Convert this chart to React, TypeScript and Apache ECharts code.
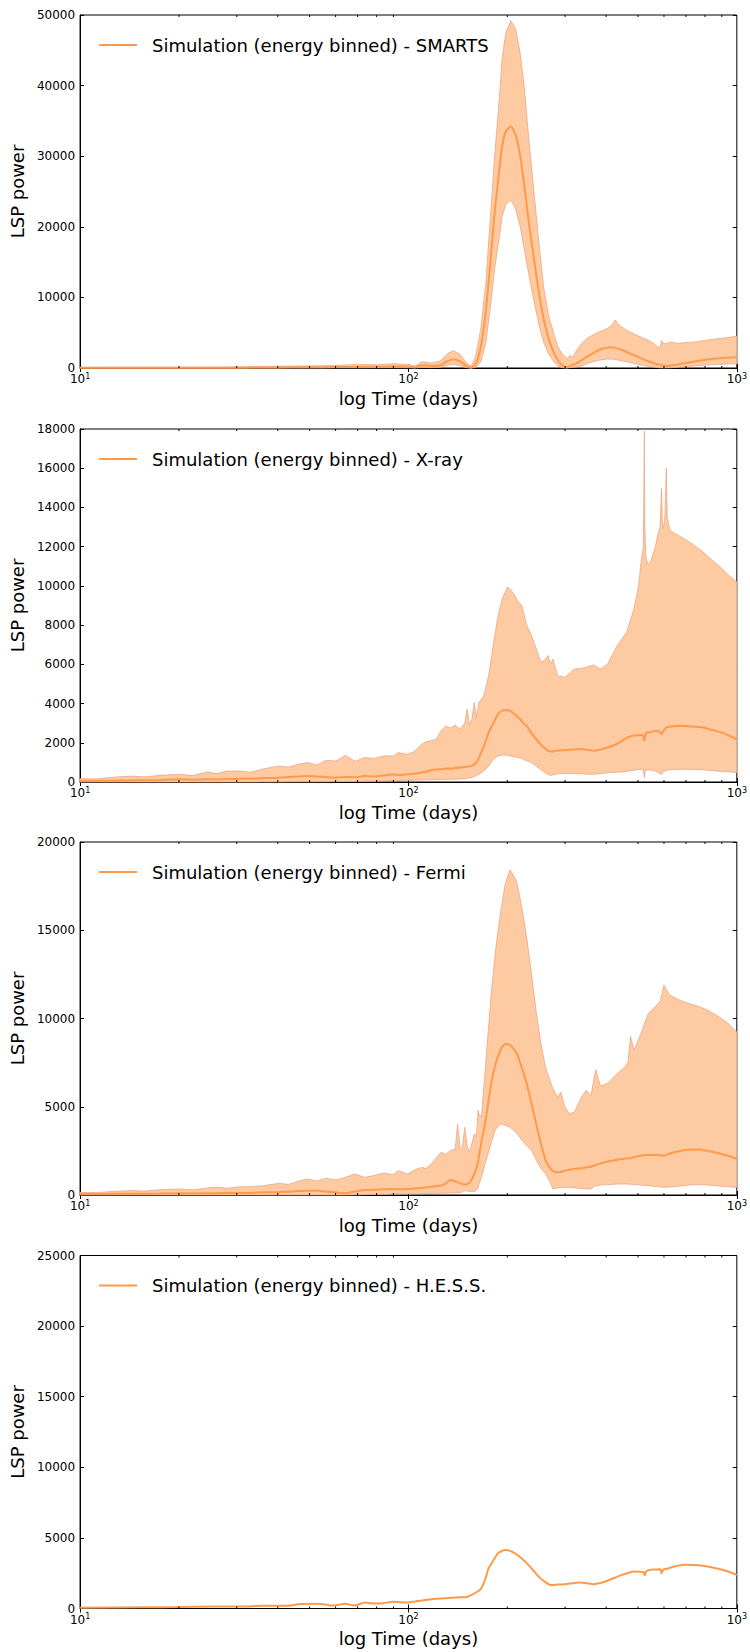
import React, { useEffect, useRef } from "react";
import * as echarts from "echarts";

// ---------- Data (days, LSP power) ----------
const days1 = [10, 15, 20, 30, 40, 50, 60, 70, 80, 90, 100, 105, 110, 118, 125, 132, 137, 143, 150, 155, 160, 166, 172, 178, 183, 189, 193, 198, 205, 212, 219, 225, 232, 241, 250, 258, 267, 277, 285, 294, 304, 310, 316, 325, 337, 350, 365, 380, 400, 415, 426, 440, 460, 487, 515, 545, 565, 575, 585, 590, 600, 612, 625, 660, 700, 750, 800, 860, 930, 1000];
const upper1 = [80, 90, 100, 150, 250, 300, 350, 500, 450, 600, 500, 300, 900, 700, 1000, 2100, 2450, 2000, 800, 250, 1500, 5500, 12000, 22000, 30000, 38000, 44000, 47500, 49200, 48000, 44500, 40000, 33000, 25000, 17500, 11500, 7500, 4900, 3000, 2000, 1300, 1800, 1500, 2500, 3500, 4200, 4700, 5100, 5500, 6000, 6800, 6000, 5400, 4800, 4300, 3800, 3300, 2900, 3000, 3900, 3400, 3500, 3700, 3500, 3600, 3700, 3900, 4100, 4300, 4500];
const median1 = [30, 30, 40, 50, 80, 100, 130, 150, 170, 200, 180, 120, 400, 300, 400, 1000, 1230, 1000, 300, 50, 500, 3000, 8000, 15500, 22000, 28000, 31500, 33500, 34200, 33000, 30000, 26000, 21000, 15500, 10500, 7000, 4200, 2200, 1100, 400, 100, 250, 450, 650, 1100, 1600, 2100, 2550, 2850, 2950, 2850, 2650, 2300, 1800, 1300, 850, 600, 500, 450, 400, 350, 300, 330, 500, 700, 950, 1150, 1350, 1450, 1550];
const lower1 = [0, 0, 0, 0, 10, 20, 30, 30, 40, 50, 40, 20, 80, 50, 100, 400, 500, 350, 50, 0, 50, 800, 3500, 9000, 14000, 18500, 21500, 23200, 23800, 22500, 20000, 17000, 13500, 9500, 6000, 3700, 2000, 900, 300, 50, 0, 50, 100, 150, 300, 600, 900, 1100, 1250, 1270, 1200, 1050, 900, 650, 400, 200, 100, 50, 30, 30, 20, 20, 30, 100, 200, 300, 400, 480, 550, 600];

const days2 = [10, 11.3, 12.5, 14.3, 15.8, 17.5, 20, 22, 24.4, 26.1, 28, 30.8, 33, 36, 40.3, 43.1, 46.1, 49.2, 52.6, 56, 60.2, 64.3, 68.8, 73.5, 78.6, 84, 89.9, 92.9, 99.3, 104, 109.8, 113, 117.4, 121.4, 125.6, 129.8, 134.2, 138.8, 143.5, 148.4, 150.9, 153.4, 156, 158.6, 161, 164, 169.6, 175.4, 181.3, 187.5, 193.5, 200.4, 205, 210.7, 216, 221.5, 225.3, 229.1, 236.9, 244.9, 253.2, 259, 266.2, 270.7, 275.4, 284.6, 299.3, 320, 336.5, 347.8, 365.7, 384.5, 404.3, 432.3, 446.9, 462.1, 485.9, 502.3, 510.9, 519.4, 522.9, 524.7, 528.2, 531.7, 537.1, 546.2, 564.7, 574.2, 583.9, 589.8, 593.8, 597.8, 603.8, 609.9, 614, 624.3, 634.9, 667.5, 690.2, 737.9, 788.8, 843.4, 901.5, 950, 1000];
const upper2 = [170, 160, 240, 300, 260, 340, 390, 330, 510, 430, 560, 560, 500, 660, 820, 760, 900, 990, 870, 1100, 1075, 1360, 1050, 1245, 1200, 1330, 1330, 1500, 1415, 1550, 1930, 2050, 2100, 2180, 2600, 2860, 2750, 2900, 2700, 3000, 3720, 2900, 3200, 4060, 3300, 4060, 4400, 5420, 7000, 8490, 9400, 9940, 9800, 9510, 9200, 9000, 8490, 8000, 7470, 6800, 6100, 6200, 6450, 6000, 6270, 5420, 5340, 5760, 5800, 5850, 5970, 5760, 6020, 6960, 7300, 7640, 8830, 10000, 11220, 12000, 17900, 13000, 11560, 11300, 11100, 11220, 12000, 12580, 13000, 14970, 13200, 12920, 13500, 15990, 13500, 12900, 12750, 12550, 12410, 12100, 11730, 11300, 10880, 10500, 10200];
const median2 = [50, 60, 70, 80, 90, 100, 136, 120, 140, 130, 150, 170, 160, 200, 220, 255, 280, 300, 280, 250, 220, 260, 240, 300, 280, 330, 390, 360, 390, 420, 480, 520, 600, 640, 650, 680, 690, 710, 730, 760, 780, 800, 820, 900, 1000, 1245, 1800, 2520, 3000, 3460, 3650, 3670, 3600, 3450, 3300, 3100, 2950, 2860, 2500, 2180, 1900, 1750, 1600, 1550, 1560, 1600, 1620, 1660, 1680, 1650, 1590, 1650, 1760, 1950, 2100, 2250, 2370, 2390, 2400, 2350, 2100, 2200, 2450, 2520, 2530, 2550, 2600, 2610, 2520, 2440, 2500, 2600, 2700, 2780, 2800, 2820, 2840, 2860, 2860, 2820, 2780, 2650, 2520, 2350, 2180];
const lower2 = [0, 0, 0, 0, 0, 0, 0, 0, 0, 0, 0, 0, 0, 5, 5, 10, 10, 15, 15, 15, 20, 25, 30, 35, 40, 60, 70, 75, 85, 95, 105, 110, 115, 120, 125, 130, 136, 140, 150, 170, 190, 200, 230, 270, 330, 400, 560, 800, 1160, 1330, 1380, 1360, 1320, 1280, 1245, 1200, 1130, 1080, 990, 800, 620, 500, 380, 340, 360, 420, 440, 430, 420, 400, 390, 430, 470, 500, 510, 540, 600, 640, 650, 620, 220, 450, 600, 610, 610, 610, 560, 500, 430, 390, 450, 520, 560, 580, 600, 620, 640, 650, 650, 640, 620, 580, 540, 510, 480];

const days3 = [10, 11.3, 12.5, 14.3, 15.8, 17.5, 20, 22, 24.4, 26.1, 28, 30.8, 33, 36, 40.3, 43.1, 46.1, 49.2, 52.6, 56, 60.2, 64.3, 68.8, 73.5, 78.6, 84, 89.9, 92.9, 99.3, 104, 109.8, 113, 117.4, 121.4, 125.6, 129.8, 134.2, 138.8, 141.1, 143.5, 144.4, 146, 148.4, 150.9, 153.4, 156, 158.6, 161, 162.9, 164, 166.8, 172, 178.3, 184, 190.6, 197, 203.8, 210.7, 214.2, 221.5, 229.1, 236.9, 244.9, 253.2, 261.8, 270.7, 275.4, 284.6, 291.3, 299.3, 309.5, 320, 336.5, 347.8, 359.6, 371.8, 384.5, 404.3, 432.3, 454.5, 466, 474.6, 485.9, 510.9, 537.1, 564.7, 585, 599.8, 624.3, 667.5, 713.6, 762.9, 815.7, 871.9, 930, 1000];
const upper3 = [150, 140, 200, 250, 220, 300, 340, 290, 400, 435, 380, 470, 470, 520, 660, 600, 780, 910, 800, 950, 850, 1000, 1190, 1000, 1100, 1250, 1150, 1380, 1190, 1400, 1570, 1500, 1760, 2100, 2420, 2300, 2520, 2600, 4030, 2700, 2610, 2700, 3840, 2800, 2420, 2900, 3470, 3300, 4790, 4600, 4410, 7500, 11230, 13800, 15970, 17600, 18430, 18000, 17670, 16300, 14600, 12560, 10400, 8580, 7200, 6400, 6020, 5550, 5830, 4980, 4600, 4700, 5550, 5930, 5640, 7100, 6160, 6340, 6880, 7220, 7500, 9000, 8200, 9150, 10280, 10660, 11000, 11900, 11330, 11050, 10850, 10700, 10470, 10150, 9800, 9240];
const median3 = [60, 60, 65, 70, 75, 80, 95, 90, 100, 105, 110, 115, 120, 150, 170, 190, 220, 240, 250, 200, 150, 95, 200, 280, 300, 320, 340, 330, 340, 370, 400, 430, 470, 500, 530, 650, 850, 780, 720, 680, 650, 620, 590, 620, 700, 900, 1190, 1500, 1900, 2200, 3000, 4300, 6200, 7400, 8200, 8550, 8500, 8200, 8000, 7200, 6310, 5200, 4030, 2900, 1950, 1500, 1350, 1290, 1300, 1380, 1430, 1480, 1520, 1560, 1610, 1700, 1800, 1890, 2000, 2050, 2080, 2080, 2150, 2230, 2260, 2270, 2250, 2230, 2350, 2480, 2560, 2580, 2500, 2380, 2250, 2050];
const lower3 = [0, 0, 0, 0, 0, 0, 0, 0, 0, 0, 0, 0, 0, 0, 0, 0, 0, 0, 0, 0, 0, 0, 10, 20, 30, 40, 50, 55, 60, 70, 80, 85, 90, 95, 100, 105, 110, 115, 120, 130, 140, 180, 250, 220, 200, 190, 190, 250, 400, 620, 1000, 1900, 2900, 3700, 4030, 3950, 3840, 3600, 3470, 3100, 2800, 2520, 2000, 1500, 1190, 700, 340, 400, 435, 430, 420, 400, 370, 340, 340, 530, 560, 590, 620, 625, 620, 610, 590, 560, 530, 480, 450, 435, 450, 500, 560, 590, 570, 520, 470, 435];

const days4 = [10, 15.8, 20, 26.1, 30.8, 36, 40.3, 43.1, 46.1, 52.6, 56, 58.2, 60.2, 64.3, 68.8, 73.5, 78.6, 84, 89.9, 99.3, 104, 109.8, 117.4, 125.6, 129.8, 135, 143.5, 150, 156, 161, 166.8, 172, 175.4, 181.3, 187.5, 193.5, 197, 203.8, 210.7, 220, 229.1, 240, 249, 260, 270.7, 285, 299.3, 315, 330.8, 347.8, 365.7, 384.5, 404.3, 425, 446.9, 465, 485.9, 502.3, 519.4, 524.7, 528.2, 546.2, 564.7, 585, 590, 593.8, 600, 614, 640, 690.2, 737.9, 788.8, 843.4, 901.5, 950, 1000];
const median4 = [50, 95, 100, 140, 140, 190, 190, 190, 300, 330, 280, 210, 230, 330, 210, 420, 350, 380, 470, 420, 480, 570, 660, 700, 730, 760, 800, 820, 970, 1150, 1440, 2200, 2850, 3400, 3920, 4100, 4150, 4080, 3920, 3600, 3210, 2700, 2260, 1900, 1670, 1700, 1720, 1780, 1840, 1800, 1720, 1800, 1980, 2180, 2380, 2500, 2620, 2600, 2570, 2340, 2600, 2740, 2760, 2780, 2500, 2650, 2780, 2810, 2950, 3090, 3080, 3020, 2900, 2740, 2580, 2380];

const panelNames = [
  "Simulation (energy binned) - SMARTS",
  "Simulation (energy binned) - X-ray",
  "Simulation (energy binned) - Fermi",
  "Simulation (energy binned) - H.E.S.S.",
];
const yMaxes = [50000, 18000, 20000, 25000];
const ySteps = [10000, 2000, 5000, 5000];
const minorTickDays = [20, 30, 40, 50, 60, 70, 80, 90, 200, 300, 400, 500, 600, 700, 800, 900];
const xAxisTitle = "log Time (days)";
const yAxisTitle = "LSP power";

// ---------- Styling ----------
const LINE = "#ff9a4a";
const FILL = "#fdcaa2";
const EDGE = "#eba886";
const FONT = "DejaVu Sans";
const gridTops = [15, 429, 842, 1255.5];
const GRID_LEFT = 78;
const GRID_WIDTH = 659;
const GRID_HEIGHT = 353;

export default function App() {
  const ref = useRef<HTMLDivElement>(null);

  useEffect(() => {
    if (!ref.current) return;
    const chart = echarts.init(ref.current, null, { renderer: "svg" });

    const panels = [
      { days: days1, median: median1, upper: upper1, lower: lower1 },
      { days: days2, median: median2, upper: upper2, lower: lower2 },
      { days: days3, median: median3, upper: upper3, lower: lower3 },
      { days: days4, median: median4, upper: null as number[] | null, lower: null as number[] | null },
    ];

    const grids: any[] = [];
    const xAxes: any[] = [];
    const yAxes: any[] = [];
    const series: any[] = [];
    const legends: any[] = [];

    panels.forEach((p, i) => {
      const top = gridTops[i];
      grids.push({
        left: GRID_LEFT,
        top,
        width: GRID_WIDTH,
        height: GRID_HEIGHT,
        show: true,
        borderColor: "#000",
        borderWidth: 1,
        backgroundColor: "transparent",
      });
      xAxes.push({
        type: "log",
        logBase: 10,
        gridIndex: i,
        min: 10,
        max: 1000,
        position: "bottom",
        name: xAxisTitle,
        nameLocation: "middle",
        nameGap: 21,
        nameTextStyle: { fontSize: 18, color: "#000", fontFamily: FONT },
        axisLine: { show: true, lineStyle: { color: "#000", width: 1 } },
        axisTick: { show: true, inside: true, length: 4, lineStyle: { color: "#000", width: 1 } },
        splitLine: { show: false },
        axisLabel: {
          margin: 4,
          formatter: (v: number) => `{b|10}{s|${Math.round(Math.log10(v))}}`,
          rich: {
            b: { fontSize: 12, lineHeight: 14, color: "#000", fontFamily: FONT },
            s: { fontSize: 8, lineHeight: 6, verticalAlign: "top", color: "#000", fontFamily: FONT },
          },
        },
      });
      xAxes.push({
        type: "log",
        logBase: 10,
        gridIndex: i,
        min: 10,
        max: 1000,
        position: "top",
        axisLine: { show: false },
        axisTick: { show: true, inside: true, length: 4, lineStyle: { color: "#000", width: 1 } },
        axisLabel: { show: false },
        splitLine: { show: false },
      });
      yAxes.push({
        type: "value",
        gridIndex: i,
        min: 0,
        max: yMaxes[i],
        interval: ySteps[i],
        position: "left",
        name: yAxisTitle,
        nameLocation: "middle",
        nameGap: 48,
        nameTextStyle: { fontSize: 18, color: "#000", fontFamily: FONT },
        axisLine: { show: true, lineStyle: { color: "#000", width: 1 } },
        axisTick: { show: true, inside: true, length: 4, lineStyle: { color: "#000", width: 1 } },
        axisLabel: {
          margin: 5,
          fontSize: 12,
          color: "#000",
          fontFamily: FONT,
          formatter: (v: number) => String(v),
        },
        splitLine: { show: false },
      });
      yAxes.push({
        type: "value",
        gridIndex: i,
        min: 0,
        max: yMaxes[i],
        interval: ySteps[i],
        position: "right",
        axisLine: { show: false },
        axisTick: { show: true, inside: true, length: 4, lineStyle: { color: "#000", width: 1 } },
        axisLabel: { show: false },
        splitLine: { show: false },
      });

      const xi = 2 * i;
      const yi = 2 * i;

      if (p.upper && p.lower) {
        const up = p.upper;
        const lo = p.lower;
        const ds = p.days;
        series.push({
          type: "custom",
          xAxisIndex: xi,
          yAxisIndex: yi,
          silent: true,
          z: 1,
          data: [[ds[0], 0]],
          renderItem: (_params: any, api: any) => {
            const pts: number[][] = [];
            for (let k = 0; k < ds.length; k++) pts.push(api.coord([ds[k], up[k]]));
            for (let k = ds.length - 1; k >= 0; k--) pts.push(api.coord([ds[k], lo[k]]));
            return {
              type: "polygon",
              shape: { points: pts },
              style: { fill: FILL, stroke: EDGE, lineWidth: 0.8 },
            };
          },
        });
      }

      series.push({
        type: "line",
        name: panelNames[i],
        xAxisIndex: xi,
        yAxisIndex: yi,
        data: p.days.map((d, k) => [d, p.median[k]]),
        symbol: "none",
        showSymbol: false,
        smooth: 0.2,
        color: LINE,
        lineStyle: { color: LINE, width: 2 },
        z: 3,
      });

      series.push({
        type: "custom",
        xAxisIndex: xi,
        yAxisIndex: yi,
        silent: true,
        z: 5,
        data: minorTickDays.map((d) => [d, 0]),
        renderItem: (params: any, api: any) => {
          const x = api.coord([api.value(0), 0])[0];
          const cs = params.coordSys;
          const yb = cs.y + cs.height;
          return {
            type: "group",
            children: [
              { type: "line", shape: { x1: x, y1: yb, x2: x, y2: yb - 2 }, style: { stroke: "#000", lineWidth: 1 } },
              { type: "line", shape: { x1: x, y1: cs.y, x2: x, y2: cs.y + 2 }, style: { stroke: "#000", lineWidth: 1 } },
            ],
          };
        },
      });

      legends.push({
        data: [panelNames[i]],
        left: 94,
        top: top + 25 - 10,
        icon: "rect",
        itemWidth: 38,
        itemHeight: 2,
        selectedMode: false,
        textStyle: { fontSize: 18, color: "#000", fontFamily: FONT, lineHeight: 20, padding: [0, 0, 0, 10] },
      });
    });

    chart.setOption({
      animation: false,
      textStyle: { fontFamily: FONT },
      grid: grids,
      xAxis: xAxes,
      yAxis: yAxes,
      legend: legends,
      series,
    });

    return () => chart.dispose();
  }, []);

  return (
    <div
      ref={ref}
      style={{ position: "absolute", left: 0, top: 0, width: 750, height: 1652, background: "#fff" }}
    />
  );
}
